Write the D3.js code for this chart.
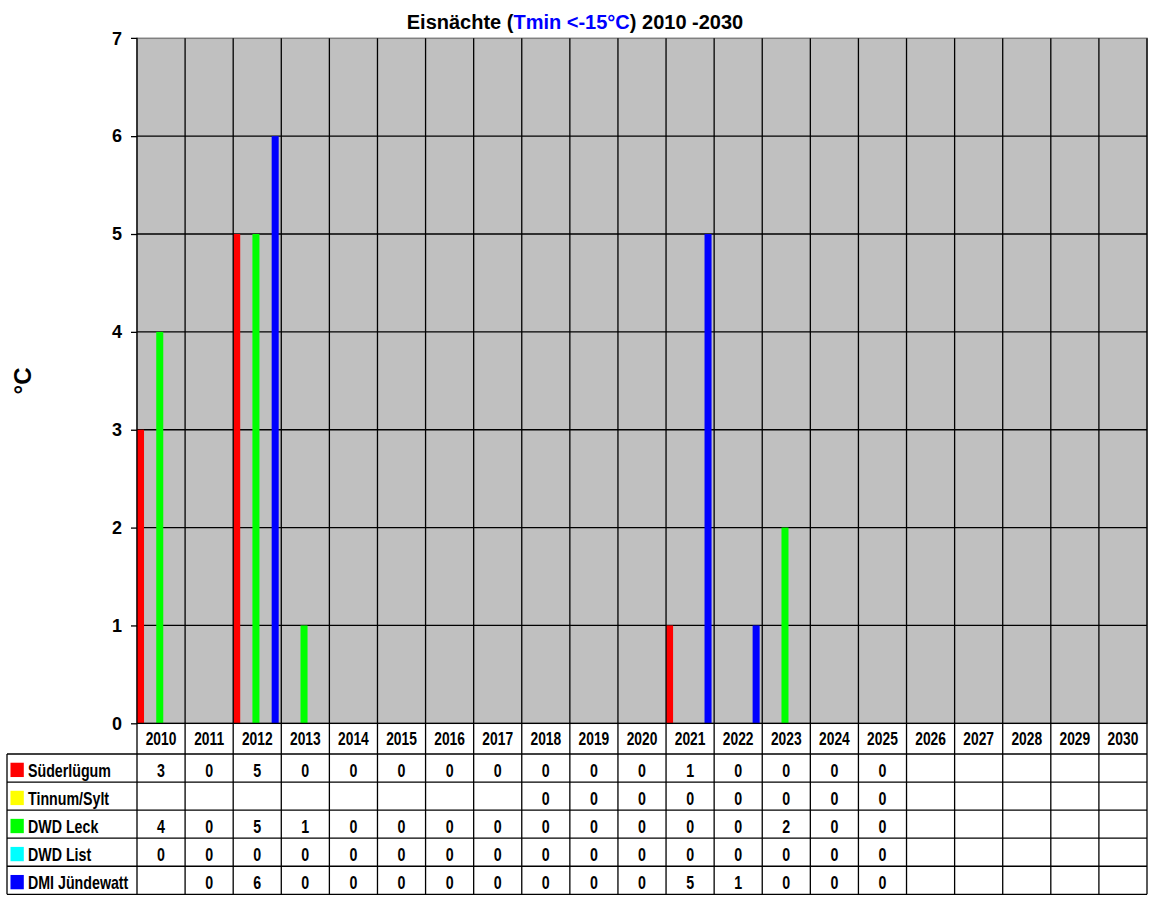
<!DOCTYPE html>
<html><head><meta charset="utf-8">
<script src="https://cdn.jsdelivr.net/npm/d3@7"></script>
<style>
html,body{margin:0;padding:0;background:#fff;}
text{font-family:"Liberation Sans",Arial,sans-serif;font-weight:bold;}
</style></head>
<body><svg id="c" width="1152" height="900"></svg>
<script>
const years = ["2010","2011","2012","2013","2014","2015","2016","2017","2018","2019","2020","2021","2022","2023","2024","2025","2026","2027","2028","2029","2030"];
const seriesNames = ["Süderlügum","Tinnum/Sylt","DWD Leck","DWD List","DMI Jündewatt"];
const seriesColors = ["#ff0000","#ffff00","#00ff00","#00ffff","#0000ff"];
const suederluegum = [3,0,5,0,0,0,0,0,0,0,0,1,0,0,0,0,null,null,null,null,null];
const tinnumSylt = [null,null,null,null,null,null,null,null,0,0,0,0,0,0,0,0,null,null,null,null,null];
const dwdLeck = [4,0,5,1,0,0,0,0,0,0,0,0,0,2,0,0,null,null,null,null,null];
const dwdList = [0,0,0,0,0,0,0,0,0,0,0,0,0,0,0,0,null,null,null,null,null];
const dmiJuendewatt = [null,0,6,0,0,0,0,0,0,0,0,5,1,0,0,0,null,null,null,null,null];
const seriesValues = [suederluegum,tinnumSylt,dwdLeck,dwdList,dmiJuendewatt];
const yTicks = [0,1,2,3,4,5,6,7];

const svg = d3.select("#c");
const L = 137, R = 1147, T = 38.3, B = 723.3;
const tableTop = 754, rowH = 28.06, tableLeft = 7;
const SX = 0.79;

const x = d3.scaleBand().domain(years).range([L, R]).padding(0);
const xs = d3.scaleBand().domain(d3.range(5)).range([0, x.bandwidth()]).padding(0);
const y = d3.scaleLinear().domain([0, 7]).range([B, T]);

// plot background
svg.append("rect").attr("x", L).attr("y", T).attr("width", R - L).attr("height", B - T)
  .attr("fill", "#c0c0c0").attr("stroke", "#808080").attr("stroke-width", 1.5);

// horizontal gridlines
svg.append("g").selectAll("line").data(yTicks.slice(1, -1)).join("line")
  .attr("x1", L).attr("x2", R).attr("y1", d => y(d)).attr("y2", d => y(d))
  .attr("stroke", "#000").attr("stroke-width", 1.3);

// bars
const bw = xs.bandwidth() * 0.73;
seriesValues.forEach((vals, si) => {
  svg.append("g").selectAll("rect").data(years.map((yr, i) => ({yr, v: vals[i]})).filter(d => d.v != null && d.v > 0))
    .join("rect")
    .attr("x", d => x(d.yr) + xs(si))
    .attr("y", d => y(d.v))
    .attr("width", bw)
    .attr("height", d => y(0) - y(d.v))
    .attr("fill", seriesColors[si]);
});

// vertical category lines (through plot and table)
const bounds = years.map(yr => x(yr)).concat([R]);
svg.append("g").selectAll("line").data(bounds.slice(1)).join("line")
  .attr("x1", d => d).attr("x2", d => d).attr("y1", T).attr("y2", tableTop + 5 * rowH)
  .attr("stroke", "#000").attr("stroke-width", 1.3);

// y axis
const yAxis = d3.axisLeft(y).tickValues(yTicks).tickSize(6).tickPadding(9).tickFormat(d3.format("d"));
const ga = svg.append("g").attr("transform", `translate(${L},0)`).call(yAxis);
ga.select(".domain").attr("stroke", "#000").attr("stroke-width", 1.3).attr("d", `M-6,${T}H0V${tableTop + 5 * rowH}`);
ga.selectAll(".tick line").attr("stroke", "#000").attr("stroke-width", 1.3);
ga.selectAll(".tick text").attr("font-size", 18).attr("fill", "#000")
  .style("font-family", '"Liberation Sans",Arial,sans-serif').style("font-weight", "bold");
ga.select(".tick:last-of-type line").remove();

// x axis line
svg.append("line").attr("x1", L).attr("x2", R).attr("y1", B).attr("y2", B).attr("stroke", "#000").attr("stroke-width", 1.3);

// header year labels (condensed)
svg.append("g").selectAll("text").data(years).join("text")
  .attr("transform", d => `translate(${x(d) + x.bandwidth() / 2},745) scale(${SX},1)`)
  .attr("text-anchor", "middle").attr("font-size", 17.5).text(d => d);

// table horizontal lines
svg.append("g").selectAll("line").data(d3.range(6)).join("line")
  .attr("x1", tableLeft).attr("x2", R)
  .attr("y1", d => tableTop + d * rowH).attr("y2", d => tableTop + d * rowH)
  .attr("stroke", "#000").attr("stroke-width", 1.3);
svg.append("line").attr("x1", tableLeft).attr("x2", tableLeft).attr("y1", tableTop).attr("y2", tableTop + 5 * rowH)
  .attr("stroke", "#000").attr("stroke-width", 1.3);

// legend rows
seriesNames.forEach((name, si) => {
  const cy = tableTop + si * rowH + rowH / 2;
  const base = cy + 9;
  svg.append("rect").attr("x", 10.5).attr("y", cy - 5.3).attr("width", 13.3).attr("height", 14.3).attr("fill", seriesColors[si]);
  svg.append("text").attr("transform", `translate(28,${base}) scale(${SX},1)`).attr("font-size", 18).text(name);
  svg.append("g").selectAll("text").data(years.map((yr, i) => ({yr, v: seriesValues[si][i]})).filter(d => d.v != null))
    .join("text")
    .attr("transform", d => `translate(${x(d.yr) + x.bandwidth() / 2},${base}) scale(${SX},1)`)
    .attr("text-anchor", "middle").attr("font-size", 18).text(d => d.v);
});

// title
const title = svg.append("text").attr("x", 575).attr("y", 29).attr("text-anchor", "middle").attr("font-size", 20);
title.append("tspan").text("Eisnächte (");
title.append("tspan").attr("fill", "#0000ff").text("Tmin <-15°C");
title.append("tspan").text(") 2010 -2030");

// y label
svg.append("text").attr("transform", "translate(31,381) rotate(-90)").attr("text-anchor", "middle")
  .attr("font-size", 24).text("°C");
</script></body></html>
